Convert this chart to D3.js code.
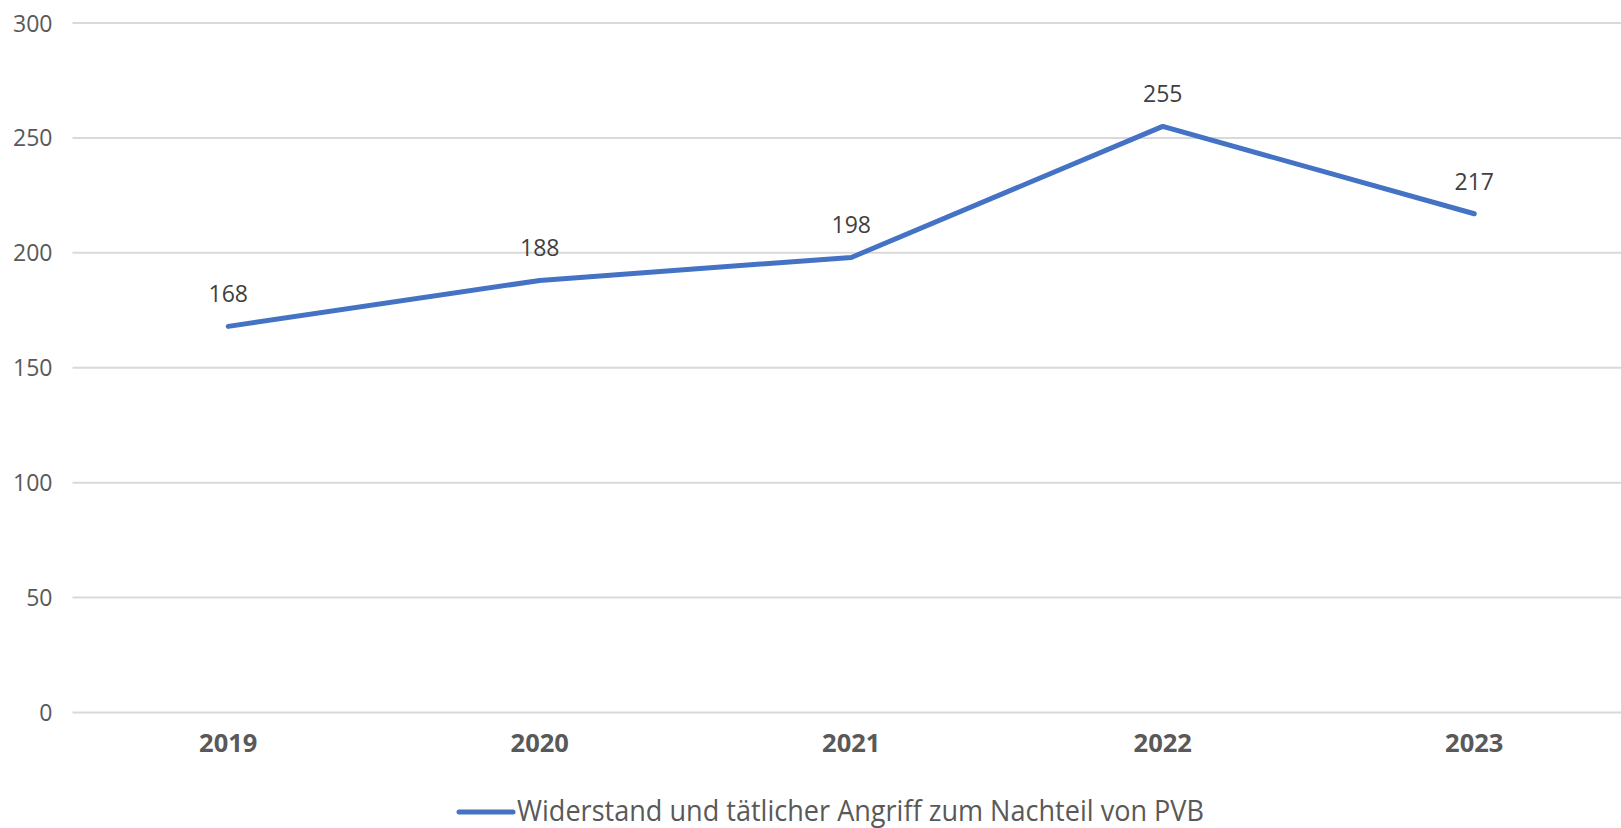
<!DOCTYPE html>
<html>
<head>
<meta charset="utf-8">
<script src="https://cdn.jsdelivr.net/npm/d3@7"></script>
<style>
    body { margin: 0; background: #fff; }
    svg { display: block; font-family: "Open Sans", "Noto Sans", sans-serif; }
    .grid line { stroke: #d9d9d9; stroke-width: 2; }
    .axis--y text { fill: #595959; font-size: 23px; }
    .axis--x text { fill: #595959; font-size: 25.5px; font-weight: bold; }
    .line { fill: none; stroke: #4472c4; stroke-width: 5; stroke-linecap: round; stroke-linejoin: round; }
    .label { fill: #404040; font-size: 23px; text-anchor: middle; }
    .legend text { fill: #595959; font-size: 29px; }
</style>
</head>
<body>
<svg width="1621" height="828"></svg>
<script>
var years = ["2019", "2020", "2021", "2022", "2023"];
var values = [168, 188, 198, 255, 217];
var yTicks = [0, 50, 100, 150, 200, 250, 300];
var seriesName = "Widerstand und tätlicher Angriff zum Nachteil von PVB";

var svg = d3.select("svg"),
    margin = {top: 23, left: 72.5},
    width = 1557.5,
    height = 689.5;

var x = d3.scaleBand().domain(years).range([0, width]),
    y = d3.scaleLinear().domain([0, 300]).range([height, 0]);

var g = svg.append("g")
    .attr("transform", "translate(" + margin.left + "," + margin.top + ")");

// horizontal grid lines
g.append("g")
    .attr("class", "grid")
    .selectAll("line")
    .data(yTicks)
    .enter().append("line")
    .attr("x1", 0)
    .attr("x2", width)
    .attr("y1", function(d) { return y(d); })
    .attr("y2", function(d) { return y(d); });

var yAxis = d3.axisLeft(y).tickValues(yTicks).tickSize(0).tickPadding(20);
g.append("g")
    .attr("class", "axis axis--y")
    .call(yAxis)
    .attr("font-family", null)
    .attr("font-size", null)
    .call(function(s) { s.select(".domain").remove(); })
    .selectAll("text").attr("dy", "0.35em");

var xAxis = d3.axisBottom(x).tickSize(0).tickPadding(21);
g.append("g")
    .attr("class", "axis axis--x")
    .attr("transform", "translate(0," + height + ")")
    .call(xAxis)
    .attr("font-family", null)
    .attr("font-size", null)
    .call(function(s) { s.select(".domain").remove(); });

var data = years.map(function(d, i) { return {year: d, value: values[i]}; });

var line = d3.line()
    .x(function(d) { return x(d.year) + x.bandwidth() / 2; })
    .y(function(d) { return y(d.value); });

g.append("path")
    .datum(data)
    .attr("class", "line")
    .attr("d", line);

// data labels above the points
g.selectAll(".label")
    .data(data)
    .enter().append("text")
    .attr("class", "label")
    .attr("x", function(d) { return x(d.year) + x.bandwidth() / 2; })
    .attr("y", function(d) { return y(d.value) - 24; })
    .text(function(d) { return d.value; });

// legend
var legend = svg.append("g").attr("class", "legend");
legend.append("line")
    .attr("class", "line")
    .attr("x1", 459).attr("x2", 513)
    .attr("y1", 812).attr("y2", 812);
legend.append("text")
    .attr("x", 517)
    .attr("y", 821)
    .attr("textLength", 687)
    .attr("lengthAdjust", "spacingAndGlyphs")
    .text(seriesName);
</script>
</body>
</html>
